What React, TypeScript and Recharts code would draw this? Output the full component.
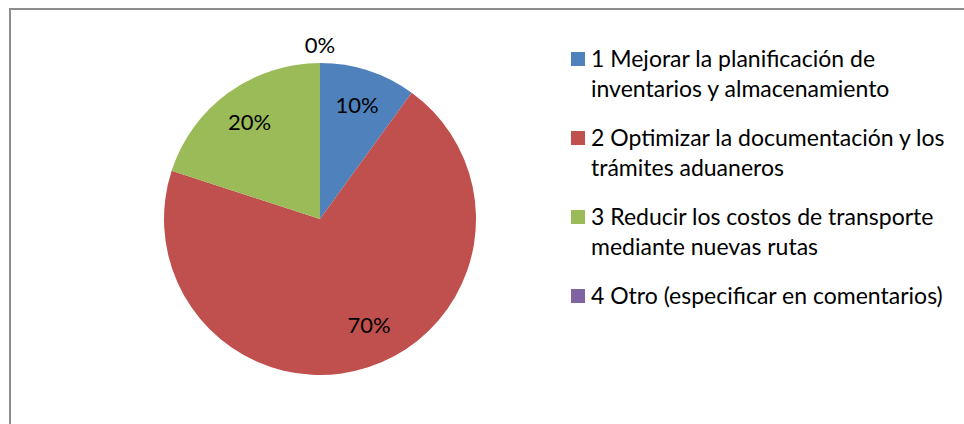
import React from "react";
import { PieChart, Pie, Cell, Legend } from "recharts";

const categories = [
  "1 Mejorar la planificación de inventarios y almacenamiento",
  "2 Optimizar la documentación y los trámites aduaneros",
  "3 Reducir los costos de transporte mediante nuevas rutas",
  "4 Otro (especificar en comentarios)",
];
const values = [10, 70, 20, 0];
const colors = ["#4F81BD", "#C0504D", "#9BBB59", "#8064A2"];

const data = categories.map((name, i) => ({ name, value: values[i] }));

const FONT = "Lato, Carlito, Calibri, sans-serif";
const RAD = Math.PI / 180;

const renderLabel = (props: any) => {
  const { cx, cy, midAngle, outerRadius, percent, value } = props;
  // zero slices sit just outside the pie, big slices get nudged like Excel's best fit
  const r = value === 0 ? outerRadius + 19 : percent > 0.5 ? 116 : 120;
  const angle = percent > 0.5 ? midAngle + 7 : midAngle;
  const x = cx + r * Math.cos(-angle * RAD);
  const y = cy + r * Math.sin(-angle * RAD);
  return (
    <text
      x={x}
      y={y}
      textAnchor="middle"
      dominantBaseline="central"
      fill="#000"
      fontSize={22}
      fontFamily={FONT}
    >
      {`${Math.round(percent * 100)}%`}
    </text>
  );
};

const renderLegend = () => (
  <div style={{ fontFamily: FONT, fontSize: 23, color: "#000" }}>
    {data.map((d, i) => (
      <div key={d.name} style={{ display: "flex", marginBottom: 19 }}>
        <div
          style={{
            width: 14,
            height: 14,
            background: colors[i],
            marginTop: 9,
            marginRight: 6,
            flexShrink: 0,
          }}
        />
        <div style={{ width: 372, lineHeight: "30px" }}>{d.name}</div>
      </div>
    ))}
  </div>
);

export default function App() {
  return (
    <div
      style={{
        position: "fixed",
        left: 0,
        top: 0,
        width: 964,
        height: 424,
        overflow: "hidden",
        background: "#fff",
      }}
    >
      <div
        style={{
          position: "absolute",
          left: 9,
          top: 8,
          width: 1000,
          height: 500,
          border: "2px solid #8c8c8c",
          boxSizing: "border-box",
        }}
      />
      <PieChart width={964} height={424} style={{ position: "absolute", left: 0, top: 0 }}>
        <Pie
          data={data}
          dataKey="value"
          nameKey="name"
          cx={315}
          cy={214}
          outerRadius={156}
          startAngle={90}
          endAngle={-270}
          stroke="none"
          label={renderLabel}
          labelLine={false}
          isAnimationActive={false}
        >
          {data.map((d, i) => (
            <Cell key={d.name} fill={colors[i]} />
          ))}
        </Pie>
        <Legend
          content={renderLegend}
          layout="vertical"
          wrapperStyle={{ left: 571, top: 43, width: 400 }}
        />
      </PieChart>
    </div>
  );
}
